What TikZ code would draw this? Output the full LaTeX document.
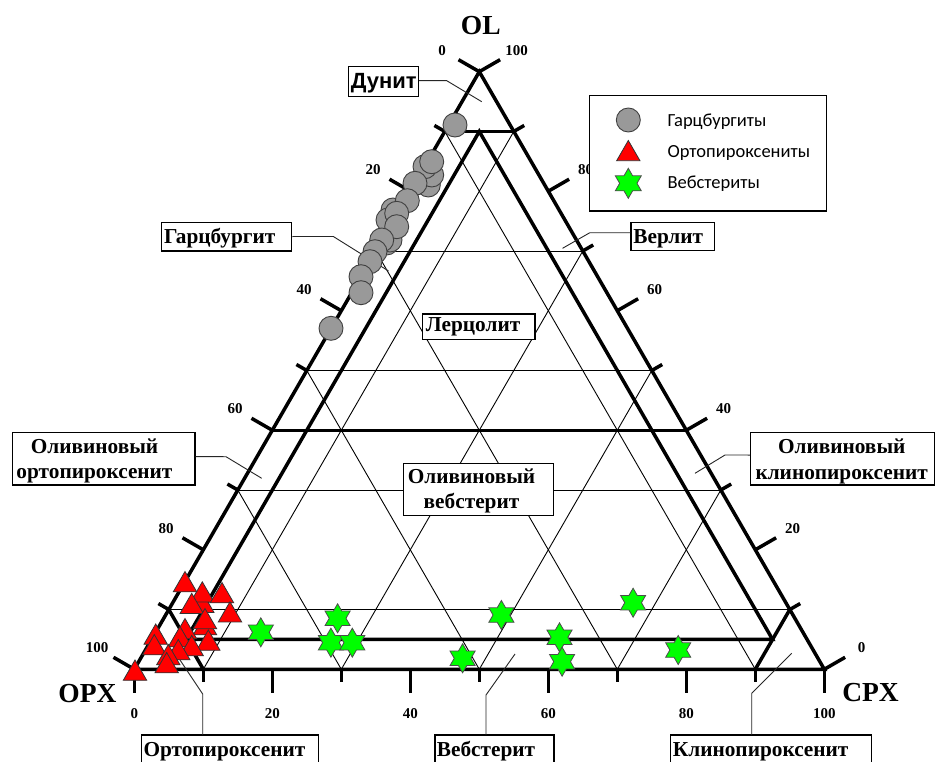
\documentclass[tikz,border=0pt]{standalone}
\usepackage{fontspec}
\setmainfont{Liberation Serif}
\newfontfamily\arialf{Liberation Sans}
\newfontfamily\calf{Carlito}
\usetikzlibrary{shapes.geometric,calc}
\definecolor{ptgray}{RGB}{153,153,153}
\definecolor{ptred}{RGB}{255,0,0}
\definecolor{ptgreen}{RGB}{0,255,0}
\newcommand\lblfont{\bfseries\fontsize{21.3}{25}\selectfont}
\newcommand\tickfont{\bfseries\fontsize{15}{17}\selectfont}
\newcommand\axfont{\bfseries\fontsize{27.5}{30}\selectfont}
\newcommand\legfont{\calf\fontsize{18.5}{22}\selectfont}
\begin{document}
\begin{tikzpicture}[x=1pt,y=-1pt,
  thickl/.style={line width=3.5pt},
  thinl/.style={line width=0.9pt},
  tickl/.style={line width=3.5pt},
  leader/.style={line width=0.9pt, draw=black!85},
  box/.style={draw=black, line width=1.1pt, fill=white, inner sep=0pt},
  lbl/.style={font=\lblfont, inner sep=0pt},
  ticklbl/.style={font=\tickfont, inner sep=0pt},
  axlbl/.style={font=\axfont, inner sep=0pt},
  circ/.style={circle, draw=black!75, fill=ptgray, line width=0.9pt, minimum size=24pt, inner sep=0pt},
  tri/.style={regular polygon, regular polygon sides=3, draw=black!80, fill=ptred, line width=0.8pt, minimum size=27pt, inner sep=0pt},
  hexstar/.style={star, star points=6, star point ratio=1.732, draw=black!70, fill=ptgreen, minimum size=29pt, inner sep=0pt, line width=0.8pt}
]
\useasboundingbox (0,0) rectangle (936,762);
\clip (0,0) rectangle (936,762);
\fill[white] (0,0) rectangle (936,762);

\coordinate (OL) at (479.3,71.7);
\coordinate (OPX) at (134.3,669.3);
\coordinate (CPX) at (824.3,669.3);
\foreach \n/\a in {100/1,90/0.9,80/0.8,70/0.7,60/0.6,50/0.5,40/0.4,30/0.3,20/0.2,10/0.1,5/0.05,0/0}{
  \coordinate (L\n) at ($(OPX)!\a!(OL)$);
  \coordinate (R\n) at ($(CPX)!\a!(OL)$);
  \coordinate (B\n) at ($(OPX)!\a!(CPX)$);
}
\coordinate (I1) at ($(L90)!0.5!(R90)$);
\coordinate (I2) at ($(L5)!0.05263!(R5)$);
\coordinate (I3) at ($(L5)!0.94737!(R5)$);

% thin grid
\foreach \n in {70,50,30,10}{ \draw[thinl] (L\n) -- (R\n); }
\foreach \n in {90,70,50,30}{ \draw[thinl] (L\n) -- (B\n); }
\draw[thinl] (R90) -- (B10);
\draw[thinl] (R70) -- (B30);
\draw[thinl] (R50) -- (B50);
\draw[thinl] (R30) -- (B70);

% thick lines
\draw[thickl] (L90) -- (R90);
\draw[thickl] (L40) -- (R40);
\draw[thickl] (L10) -- (B10);
\draw[thickl] (R10) -- (B90);
\draw[thickl] (I1) -- (I2) -- (I3) -- cycle;
\draw[thickl] (OL) -- (OPX) -- (CPX) -- cycle;

% ticks
\foreach \n in {100,80,60,40,20,0}{
  \draw[tickl] (L\n) -- ++(-20.8,-12);
  \draw[tickl] (R\n) -- ++(20.8,-12);
  \draw[tickl] (B\n) -- ++(0,24);
}
\foreach \n in {90,70,50,30,10}{
  \draw[tickl] (L\n) -- ++(-10.4,-6);
  \draw[tickl] (R\n) -- ++(10.4,-6);
  \draw[tickl] (B\n) -- ++(0,13);
}
\foreach \n/\t in {100/0,80/20,60/40,40/60,20/80,0/100}{
  \node[ticklbl] (ll\n) at ($(L\n)+(-37.2,-21.5)$) {\t};
}
\foreach \n in {100,80,60,40,20,0}{
  \node[ticklbl] (rl\n) at ($(R\n)+(37.2,-21.5)$) {\n};
  \node[ticklbl] (bl\n) at ($(B\n)+(0,44)$) {\n};
}
\node[axlbl] (tOL) at (480.8,25.2) {OL};
\node[axlbl] (tOPX) at (87.5,693.7) {OPX};
\node[axlbl] (tCPX) at (870.5,692.8) {CPX};

% label boxes
\node[box, minimum width=70pt, minimum height=30pt] (dunB) at (383.3,81.7) {};
\node[box, minimum width=130pt, minimum height=28.3pt] (harB) at (226.7,236.85) {};
\node[box, minimum width=83.8pt, minimum height=28pt] (verB) at (672.9,236.7) {};
\node[box, minimum width=112.3pt, minimum height=25.3pt] (lerB) at (478.85,326.65) {};
\node[box, minimum width=150pt, minimum height=52.4pt] (owB) at (478.2,489.5) {};
\node[box, minimum width=182.3pt, minimum height=52.7pt] (ooB) at (103.85,458.65) {};
\node[box, minimum width=183.6pt, minimum height=52.3pt] (ocB) at (842.5,458.85) {};
\node[box, minimum width=176.6pt, minimum height=45pt] (opB) at (230,757.5) {};
\node[box, minimum width=119pt, minimum height=45pt] (wbB) at (494.5,757.5) {};
\node[box, minimum width=201pt, minimum height=45pt] (cpB) at (771.2,757.5) {};

% leaders
\coordinate (dunK) at (446.7,80.7); \coordinate (dunE) at (481.7,101.7);
\draw[leader] ($(dunB.east)+(0,-1)$) -- (dunK) -- (dunE);
\coordinate (harK) at (333.3,236.5); \coordinate (harE) at (388.5,271);
\draw[leader] ($(harB.east)+(0,-0.3)$) -- (harK) -- (harE);
\coordinate (verK) at (589.8,232.7); \coordinate (verE) at (562.5,248.3);
\draw[leader] ($(verB.west)+(0,-4)$) -- (verK) -- (verE);
\coordinate (ooK) at (226,456.7); \coordinate (ooE) at (261.7,478.3);
\draw[leader] ($(ooB.east)+(0,-2)$) -- (ooK) -- (ooE);
\coordinate (ocK) at (725,455); \coordinate (ocE) at (695,473.3);
\draw[leader] ($(ocB.west)+(0,-3.8)$) -- (ocK) -- (ocE);
\coordinate (opS) at (202.7,735); \coordinate (opK) at (202.7,694); \coordinate (opE) at (173.3,650);
\draw[leader] (opS) -- (opK) -- (opE);
\coordinate (wbS) at (486,735); \coordinate (wbK) at (486,695); \coordinate (wbE) at (515,654);
\draw[leader] (wbS) -- (wbK) -- (wbE);
\coordinate (cpS) at (751.7,735); \coordinate (cpK) at (751.7,693.3); \coordinate (cpE) at (791.7,653.3);
\draw[leader] (cpS) -- (cpK) -- (cpE);

% label texts
\node[font=\arialf\bfseries\fontsize{22}{26}\selectfont, inner sep=0pt, anchor=base west] (dunT) at (350.7,88.3) {Дунит};
\node[lbl, anchor=base west] (harT) at (164,243.3) {Гарцбургит};
\node[lbl, anchor=base west] (verT) at (633.2,243.3) {Верлит};
\node[lbl, anchor=base west] (lerT) at (425.7,331.7) {Лерцолит};
\node[lbl, anchor=base] (owT1) at (471.5,483.3) {Оливиновый};
\node[lbl, anchor=base] (owT2) at (471.5,508.3) {вебстерит};
\node[lbl, anchor=base] (ooT1) at (94.5,453.3) {Оливиновый};
\node[lbl, anchor=base] (ooT2) at (94.5,478.3) {ортопироксенит};
\node[lbl, anchor=base] (ocT1) at (841.7,453.3) {Оливиновый};
\node[lbl, anchor=base] (ocT2) at (841.7,479.3) {клинопироксенит};
\node[lbl, anchor=base west] (opT) at (143.3,756.7) {Ортопироксенит};
\node[lbl, anchor=base west] (wbT) at (436.7,756.7) {Вебстерит};
\node[lbl, anchor=base west] (cpT) at (672.7,756.7) {Клинопироксенит};

% data: harzburgites
\foreach \x/\y [count=\i] in {428.3/185, 431.7/175, 425/166.7, 393/210, 388/220, 386.7/243, 390/240,
  431.7/161.7, 415/183.3, 407.3/200.7, 396.7/213.3, 396.7/226.7, 381.7/240, 375/251.7, 370/261.7,
  361/276.7, 361/292.7, 331/328.3, 455/125}{
  \node[circ] (c\i) at (\x,\y) {};
}
% orthopyroxenites
\foreach \x/\y [count=\i] in {202.3/605.7, 202.3/595.3, 185/585, 222/596, 191.7/606.8, 230/615.2,
  205/628, 205/622, 208.3/643.5, 155.7/637.5, 154.3/648, 185/632, 180/640, 191.7/649,
  178.3/653, 168.3/658, 166.7/666, 135/673.5}{
  \node[tri] (t\i) at (\x,\y) {};
}
% websterites
\foreach \x/\y [count=\i] in {260.8/632.3, 337.6/618.3, 330.9/642.7, 352.3/642.7, 462.6/658.3,
  501.4/615, 559.5/637.3, 562.1/661.7, 633.1/602.7, 678.2/650}{
  \node[hexstar] (s\i) at (\x,\y) {};
}

% legend
\node[draw=black, line width=1.1pt, fill=white, minimum width=237.4pt, minimum height=115.3pt, inner sep=0pt] (leg) at (708,153.35) {};
\node[circ, minimum size=24pt] (legC) at (628.3,120) {};
\node[tri, minimum size=27pt] (legT) at (628.3,154) {};
\node[hexstar, minimum size=30pt] (legS) at (628.3,183.3) {};
\node[font=\legfont, inner sep=0pt, anchor=base west] (legCt) at (667.3,126.7) {Гарцбургиты};
\node[font=\legfont, inner sep=0pt, anchor=base west] (legTt) at (667.3,157.7) {Ортопироксениты};
\node[font=\legfont, inner sep=0pt, anchor=base west] (legSt) at (667.3,189) {Вебстериты};
\end{tikzpicture}
\end{document}
